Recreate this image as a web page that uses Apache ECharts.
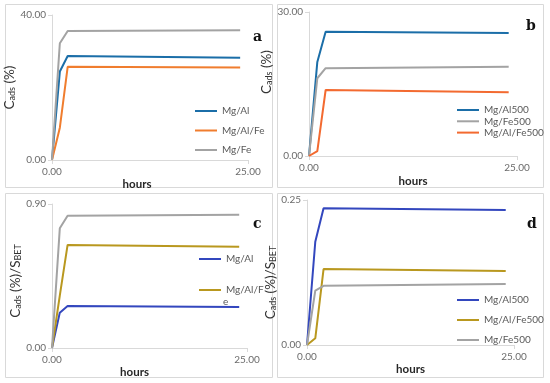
<!DOCTYPE html>
<html>
<head>
<meta charset="utf-8">
<script src="https://cdn.jsdelivr.net/npm/echarts@6/dist/echarts.min.js"></script>
<style>html,body{margin:0;padding:0;background:#fff;}#c{width:550px;height:383px;}</style>
</head>
<body>
<div id="c"></div>
<script>
// ---- data ----
const hours = [0, 1, 2, 24];
// panel a: Cads (%)
const a_MgAl   = [0, 24.4, 28.7, 28.2];
const a_MgAlFe = [0, 8.9, 25.7, 25.5];
const a_MgFe   = [0, 32.2, 35.6, 35.8];
// panel b: Cads (%)
const b_MgAl500   = [0, 19.6, 25.9, 25.6];
const b_MgFe500   = [0, 16.2, 18.3, 18.6];
const b_MgAlFe500 = [0, 1.0, 13.75, 13.3];
// panel c: Cads (%)/SBET
const c_MgAl   = [0, 0.221, 0.2625, 0.256];
const c_MgAlFe = [0, 0.327, 0.644, 0.633];
const c_MgFe   = [0, 0.748, 0.827, 0.833];
// panel d: Cads (%)/SBET
const d_MgAl500   = [0, 0.178, 0.2356, 0.2328];
const d_MgAlFe500 = [0, 0.0115, 0.131, 0.1276];
const d_MgFe500   = [0, 0.0937, 0.102, 0.105];
// axis ranges / ticks
const xMax = 25;
const yMaxA = 40, yMaxB = 30, yMaxC = 0.9, yMaxD = 0.25;

const pts = (ys) => hours.map((h, i) => [h, ys[i]]);

const FONT = 'Lato, "Open Sans", sans-serif';
const axisLineColor = '#d9d9d9';
const labelColor = '#6b6b6b';

function xAxis(idx, gap, pad) {
  return {
    gridIndex: idx, type: 'value', min: 0, max: xMax, interval: xMax,
    axisLine: {show: true, lineStyle: {color: axisLineColor}},
    axisTick: {show: true, length: 4, lineStyle: {color: axisLineColor}},
    splitLine: {show: false},
    axisLabel: {color: labelColor, fontSize: 10, fontFamily: FONT, margin: 7,
      formatter: v => v.toFixed(2)},
    name: 'hours', nameLocation: 'middle', nameGap: gap,
    nameTextStyle: {fontWeight: 'bold', fontSize: 11.5, color: '#262626', fontFamily: FONT, padding: pad}
  };
}
function yAxis(idx, max, dec, name, gap, pad) {
  return {
    gridIndex: idx, type: 'value', min: 0, max: max, interval: max,
    axisLine: {show: true, lineStyle: {color: axisLineColor}},
    axisTick: {show: true, length: 4, lineStyle: {color: axisLineColor}},
    splitLine: {show: false},
    axisLabel: {color: labelColor, fontSize: 10, fontFamily: FONT, margin: 6,
      formatter: v => v.toFixed(dec)},
    name: name, nameLocation: 'middle', nameGap: gap, nameRotate: 90,
    nameTextStyle: {color: '#333', fontFamily: FONT, padding: pad,
      rich: {
        m: {fontSize: 13.5, lineHeight: 20, verticalAlign: 'bottom', color: '#333', fontFamily: FONT},
        s: {fontSize: 9, lineHeight: 9, verticalAlign: 'bottom', color: '#333', fontFamily: FONT}
      }}
  };
}
function line(name, data, color, xi) {
  return {type: 'line', name: name, data: pts(data), xAxisIndex: xi, yAxisIndex: xi,
    symbol: 'none', lineStyle: {width: 2, color: color}, itemStyle: {color: color}, animation: false};
}
function legend(names, left, top, gap, fmt) {
  return {
    data: names, orient: 'vertical', left: left, top: top, itemGap: gap, padding: 0,
    icon: 'rect', itemWidth: 22, itemHeight: 2,
    textStyle: {color: '#595959', fontSize: 10, fontFamily: FONT},
    formatter: fmt, selectedMode: false
  };
}

const BLUE = '#1B6EA8', ORANGE = '#F07D2E', ORANGE_B = '#F36A30', GRAY = '#A3A3A3';
const BLUE2 = '#3347BE', GOLD = '#B9981F';

const nameA = '{m|C}{s|ads}{m| (%)}';
const nameC = '{m|C}{s|ads}{m| (%)/S}{s|BET}';

const option = {
  animation: false,
  grid: [
    {left: 52, top: 15, width: 196, height: 145},
    {left: 309, top: 12, width: 208, height: 144},
    {left: 52, top: 204, width: 195, height: 144},
    {left: 307, top: 200, width: 207, height: 145}
  ],
  xAxis: [xAxis(0, 15, [0, 26, 0, 0]), xAxis(1, 19), xAxis(2, 15, [0, 30, 0, 0]), xAxis(3, 18)],
  yAxis: [
    yAxis(0, yMaxA, 2, nameA, 22),
    yAxis(1, yMaxB, 2, nameA, 3, [0, 0, 0, 24]),
    yAxis(2, yMaxC, 2, nameC, 21, [0, 10, 0, 0]),
    yAxis(3, yMaxD, 2, nameC, 3, [0, 20, 0, 0])
  ],
  legend: [
    legend(['Mg/Al', 'Mg/Al/Fe', 'Mg/Fe'], 195, 106, 9.5),
    legend(['Mg/Al500', 'Mg/Fe500', 'Mg/Al/Fe500'], 457, 105, 1.3),
    legend(['Mg/Al '], 199, 254, 0),
    legend(['Mg/Al/Fe '], 199, 285, 0, () => 'Mg/Al/F'),
    legend(['Mg/Al500 ', 'Mg/Al/Fe500 ', 'Mg/Fe500 '], 457, 295, 10)
  ],
  graphic: [
    {type: 'rect', shape: {x: 5.5, y: 4.5, width: 267, height: 183}, style: {fill: 'none', stroke: '#d9d9d9', lineWidth: 1}, silent: true},
    {type: 'rect', shape: {x: 277.5, y: 4.5, width: 266, height: 183}, style: {fill: 'none', stroke: '#d9d9d9', lineWidth: 1}, silent: true},
    {type: 'rect', shape: {x: 5.5, y: 193.5, width: 267, height: 184}, style: {fill: 'none', stroke: '#d9d9d9', lineWidth: 1}, silent: true},
    {type: 'rect', shape: {x: 277.5, y: 193.5, width: 266, height: 184}, style: {fill: 'none', stroke: '#d9d9d9', lineWidth: 1}, silent: true},
    {type: 'text', left: 223, top: 297, style: {text: 'e', font: '10px Lato, sans-serif', fill: '#595959'}},
    {type: 'text', left: 253, top: 30, style: {text: 'a', font: 'bold 14px "DejaVu Serif", serif', fill: '#111'}},
    {type: 'text', left: 526, top: 19, style: {text: 'b', font: 'bold 14px "DejaVu Serif", serif', fill: '#111'}},
    {type: 'text', left: 253, top: 217, style: {text: 'c', font: 'bold 14px "DejaVu Serif", serif', fill: '#111'}},
    {type: 'text', left: 527, top: 217, style: {text: 'd', font: 'bold 14px "DejaVu Serif", serif', fill: '#111'}}
  ],
  series: [
    line('Mg/Al', a_MgAl, BLUE, 0),
    line('Mg/Al/Fe', a_MgAlFe, ORANGE, 0),
    line('Mg/Fe', a_MgFe, GRAY, 0),
    line('Mg/Al500', b_MgAl500, BLUE, 1),
    line('Mg/Fe500', b_MgFe500, GRAY, 1),
    line('Mg/Al/Fe500', b_MgAlFe500, ORANGE_B, 1),
    line('Mg/Al ', c_MgAl, BLUE2, 2),
    line('Mg/Al/Fe ', c_MgAlFe, GOLD, 2),
    line('Mg/Fe ', c_MgFe, GRAY, 2),
    line('Mg/Al500 ', d_MgAl500, BLUE2, 3),
    line('Mg/Al/Fe500 ', d_MgAlFe500, GOLD, 3),
    line('Mg/Fe500 ', d_MgFe500, GRAY, 3)
  ]
};
const chart = echarts.init(document.getElementById('c'), null, {renderer: 'canvas'});
chart.setOption(option);
</script>
</body>
</html>
